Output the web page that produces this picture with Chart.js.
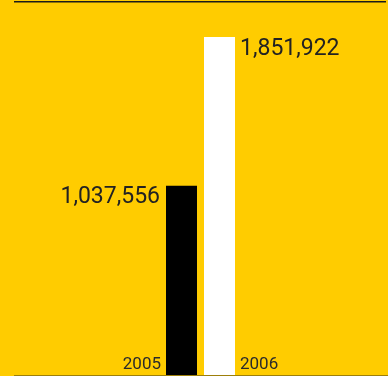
<!DOCTYPE html>
<html>
<head>
<meta charset="utf-8">
<script src="https://cdn.jsdelivr.net/npm/chart.js@4"></script>
<style>
  html, body { margin: 0; padding: 0; background: #FFCC00; }
  #wrap { width: 388px; height: 376px; position: relative; }
</style>
</head>
<body>
<div id="wrap"><canvas id="c" width="388" height="376"></canvas></div>
<script>
// Yearly totals
const years = ['2005', '2006'];
const totals = [1037556, 1851922];
const barColors = ['#000000', '#ffffff'];

const fmt = v => v.toLocaleString('en-US');

// Value and year labels drawn beside each bar, plus the top and bottom rules
const labelPlugin = {
  id: 'sideLabels',
  afterDatasetsDraw(chart) {
    const ctx = chart.ctx;
    const meta = chart.getDatasetMeta(0);
    ctx.save();
    // rules
    ctx.fillStyle = '#1a1a1a';
    ctx.fillRect(14, 1, 372, 1.5);
    ctx.fillStyle = 'rgba(60,50,20,0.5)';
    ctx.fillRect(14, 375, 374, 1);

    meta.data.forEach((bar, i) => {
      const left = bar.x - bar.width / 2;
      const right = bar.x + bar.width / 2;
      const leftSide = i === 0;
      ctx.fillStyle = '#222222';
      ctx.font = '23px Roboto';
      ctx.textBaseline = 'alphabetic';
      ctx.textAlign = leftSide ? 'right' : 'left';
      ctx.fillText(fmt(totals[i]), leftSide ? left - 6 : right + 5, bar.y + 17.5);
      ctx.font = '17px Roboto';
      ctx.fillStyle = '#2a2a2a';
      ctx.fillText(years[i], leftSide ? left - 5 : right + 5, 369);
    });
    ctx.restore();
  }
};

new Chart(document.getElementById('c'), {
  type: 'bar',
  data: {
    labels: years,
    datasets: [{
      data: totals,
      backgroundColor: barColors,
      borderWidth: 0,
      barPercentage: 1,
      categoryPercentage: 31 / 38
    }]
  },
  options: {
    responsive: false,
    animation: false,
    layout: { padding: { left: 162.5, right: 149.5, top: 0, bottom: 1 } },
    plugins: { legend: { display: false }, tooltip: { enabled: false } },
    scales: {
      x: { display: false },
      y: { display: false, min: 0, max: 2055000 }
    }
  },
  plugins: [labelPlugin]
});
</script>
</body>
</html>
